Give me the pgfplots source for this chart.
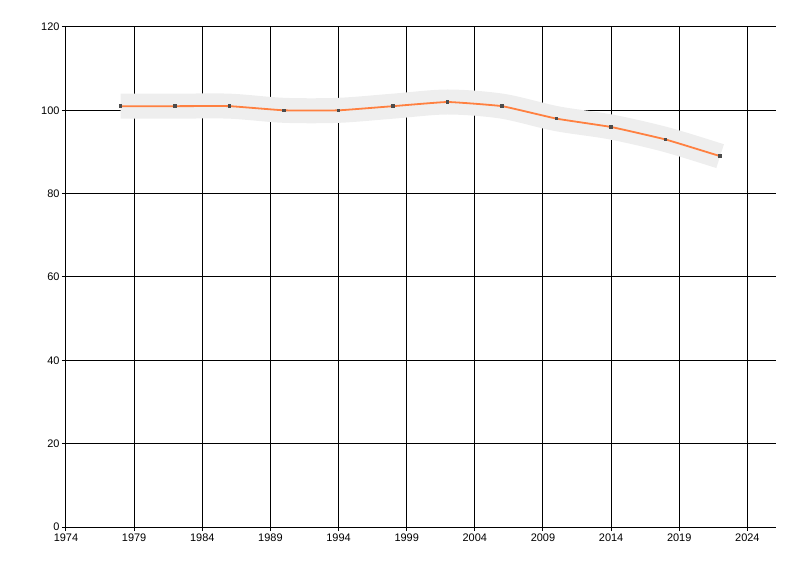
\documentclass[border=0pt]{standalone}
\usepackage{fontspec}
\setmainfont{Liberation Sans}
\usepackage{pgfplots}
\pgfplotsset{compat=1.18}
\definecolor{lineor}{RGB}{255,128,64}
\definecolor{bandgray}{RGB}{238,238,238}
\begin{document}
\begin{tikzpicture}
\useasboundingbox (-66bp,-49bp) rectangle (734bp,527bp);
\begin{axis}[
  at={(0,0)}, anchor=south west,
  scale only axis, width=710bp, height=500bp,
  xmin=1974, xmax=2026.1, ymin=0, ymax=120,
  xtick={1974,1979,...,2024}, ytick={0,20,...,120},
  axis x line=bottom, axis y line=left,
  axis line style={-, black, line width=1bp},
  grid=major, major grid style={black, line width=1bp},
  tick align=outside, major tick length=4bp,
  tick style={black, line width=1bp},
  xticklabel style={/pgf/number format/1000 sep={}, font=\fontsize{11}{13}\selectfont, yshift=1bp},
  yticklabel style={font=\fontsize{11}{13}\selectfont, xshift=1bp},
  /pgf/number format/assume math mode=true,
]
\addplot[bandgray, line width=25bp, line cap=butt, smooth, tension=0.5, forget plot] coordinates {
(1978,101) (1982,101) (1986,101) (1990,100) (1994,100) (1998,101) (2002,102) (2006,101) (2010,98) (2014,96) (2018,93) (2022,89)};
\addplot[lineor, line width=1.8bp, smooth, tension=0.2, mark=square*, mark size=0.8bp, mark options={draw=black!70, fill=black!70}] coordinates {
(1978,101) (1982,101) (1986,101) (1990,100) (1994,100) (1998,101) (2002,102) (2006,101) (2010,98) (2014,96) (2018,93) (2022,89)};
\end{axis}
\end{tikzpicture}
\end{document}
